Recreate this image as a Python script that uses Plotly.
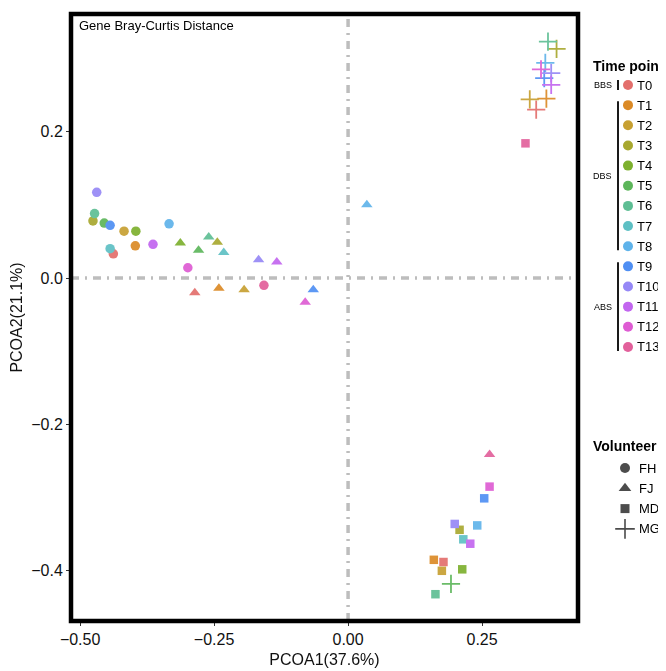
import plotly.graph_objects as go

# ---------------- data ----------------
time_points = ["T0", "T1", "T2", "T3", "T4", "T5", "T6", "T7", "T8", "T9", "T10", "T11", "T12", "T13"]
tp_colors = ["#E36F6C", "#DB8A26", "#C7A032", "#A8A82F", "#7DB02E", "#5DB65B", "#5EBE94", "#5EC0C4",
             "#5FB3EA", "#4F8FF3", "#9688F6", "#C266EF", "#DE5CD3", "#E2609B"]

# FH (circles)
fh_t = ["T0", "T1", "T2", "T3", "T4", "T5", "T6", "T7", "T8", "T9", "T10", "T11", "T12", "T13"]
fh_x = [-0.438, -0.397, -0.418, -0.476, -0.396, -0.455, -0.473, -0.444, -0.334, -0.444, -0.469, -0.364, -0.299, -0.157]
fh_y = [0.033, 0.044, 0.064, 0.078, 0.064, 0.075, 0.088, 0.040, 0.074, 0.072, 0.117, 0.046, 0.014, -0.010]

# FJ (triangles)
fj_t = ["T0", "T1", "T2", "T3", "T4", "T5", "T6", "T7", "T8", "T9", "T10", "T11", "T12", "T13"]
fj_x = [-0.286, -0.241, -0.194, -0.244, -0.313, -0.279, -0.260, -0.232, 0.035, -0.065, -0.167, -0.133, -0.080, 0.264]
fj_y = [-0.020, -0.014, -0.016, 0.049, 0.048, 0.038, 0.056, 0.035, 0.100, -0.016, 0.025, 0.022, -0.033, -0.241]

# MD (squares)
md_t = ["T0", "T1", "T2", "T3", "T4", "T6", "T7", "T8", "T9", "T10", "T11", "T12", "T13"]
md_x = [0.178, 0.160, 0.175, 0.208, 0.213, 0.163, 0.215, 0.241, 0.254, 0.199, 0.228, 0.264, 0.331]
md_y = [-0.388, -0.385, -0.400, -0.344, -0.398, -0.432, -0.357, -0.338, -0.301, -0.336, -0.363, -0.285, 0.184]

# MG (crosses)
mg_t = ["T0", "T1", "T2", "T3", "T5", "T6", "T8", "T9", "T10", "T11", "T12"]
mg_x = [0.351, 0.370, 0.339, 0.389, 0.192, 0.373, 0.368, 0.366, 0.379, 0.379, 0.360]
mg_y = [0.230, 0.245, 0.244, 0.313, -0.418, 0.323, 0.294, 0.273, 0.280, 0.264, 0.285]

volunteers = ["FH", "FJ", "MD", "MG"]
phases = [("BBS", 0, 0), ("DBS", 1, 8), ("ABS", 9, 13)]

x_ticks = [-0.50, -0.25, 0.00, 0.25]
y_ticks = [-0.4, -0.2, 0.0, 0.2]

# ---------------- style ----------------
FONT = "Liberation Sans, Arial, Helvetica, sans-serif"
cmap = dict(zip(time_points, tp_colors))
symbols = {"FH": "circle", "FJ": "triangle-up", "MD": "square", "MG": "cross-thin"}
sizes = {"FH": 9.5, "FJ": 10, "MD": 8.5, "MG": 13}

fig = go.Figure()

for name, ts, xs, ys in [("FH", fh_t, fh_x, fh_y), ("FJ", fj_t, fj_x, fj_y),
                         ("MD", md_t, md_x, md_y), ("MG", mg_t, mg_x, mg_y)]:
    cols = [cmap[t] for t in ts]
    if name == "MG":
        marker = dict(symbol=symbols[name], size=sizes[name], color=cols,
                      line=dict(color=cols, width=1.8))
    else:
        marker = dict(symbol=symbols[name], size=sizes[name], color=cols, line=dict(width=0))
    fig.add_trace(go.Scatter(x=xs, y=ys, mode="markers", marker=marker, opacity=0.92,
                             name=name, showlegend=False, xaxis="x", yaxis="y",
                             text=ts, hovertemplate="%{text}<extra>" + name + "</extra>"))

# ---------------- legend drawn on a secondary pixel-like axis ----------------
row0, row_h = 77, 20.15
lg_y = [row0 + i * row_h for i in range(len(time_points))]
fig.add_trace(go.Scatter(x=[620] * len(time_points), y=lg_y, mode="markers",
                         marker=dict(symbol="circle", size=10, color=tp_colors),
                         xaxis="x2", yaxis="y2", showlegend=False, hoverinfo="skip", cliponaxis=False))

vol_y0, vol_h = 460, 20.3
v_y = [vol_y0 + i * vol_h for i in range(len(volunteers))]
fig.add_trace(go.Scatter(x=[617] * len(volunteers), y=v_y, mode="markers",
                         marker=dict(symbol=[symbols[v] for v in volunteers],
                                     size=[10, 11, 9, 14], color="black",
                                     line=dict(color="black", width=[0, 0, 0, 1.6])),
                         xaxis="x2", yaxis="y2", showlegend=False, hoverinfo="skip", cliponaxis=False))

annotations = []
annotations.append(dict(x=583, y=58, xref="x2", yref="y2", text="<b>Time point</b>", showarrow=False,
                        xanchor="left", yanchor="middle", font=dict(size=14, color="black", family=FONT)))
for t, yy in zip(time_points, lg_y):
    annotations.append(dict(x=627, y=yy, xref="x2", yref="y2", text=t, showarrow=False,
                            xanchor="left", yanchor="middle", font=dict(size=13, color="black", family=FONT)))
annotations.append(dict(x=583, y=438, xref="x2", yref="y2", text="<b>Volunteer</b>", showarrow=False,
                        xanchor="left", yanchor="middle", font=dict(size=14, color="black", family=FONT)))
for v, yy in zip(volunteers, v_y):
    annotations.append(dict(x=629, y=yy, xref="x2", yref="y2", text=v, showarrow=False,
                            xanchor="left", yanchor="middle", font=dict(size=13, color="black", family=FONT)))

shapes = []
for label, i0, i1 in phases:
    if i0 == i1:
        ytop, ybot = lg_y[i0] - 5, lg_y[i0] + 5
    else:
        ytop, ybot = lg_y[i0] - 4, lg_y[i1] + 4
    shapes.append(dict(type="line", xref="x2", yref="y2", x0=610, x1=610, y0=ytop, y1=ybot,
                       line=dict(color="#1a1a1a", width=2)))
    annotations.append(dict(x=606, y=(lg_y[i0] + lg_y[i1]) / 2, xref="x2", yref="y2", text=label,
                            showarrow=False, xanchor="right", yanchor="middle",
                            font=dict(size=9, color="black", family=FONT)))

# chart caption inside panel
annotations.append(dict(x=0.012, y=0.997, xref="x domain", yref="y domain", text="Gene Bray-Curtis Distance",
                        showarrow=False, xanchor="left", yanchor="top",
                        font=dict(size=13, color="black", family=FONT)))

# zero reference lines
dash = "8px,6px,2px,6px"
shapes.append(dict(type="line", xref="x", yref="y domain", x0=0, x1=0, y0=0, y1=1,
                   line=dict(color="#BDBDBD", width=3.5, dash=dash), layer="below"))
shapes.append(dict(type="line", xref="x domain", yref="y", x0=0, x1=1, y0=0, y1=0,
                   line=dict(color="#BDBDBD", width=3.5, dash=dash), layer="below"))
# thick panel border
shapes.append(dict(type="rect", xref="x domain", yref="y domain", x0=0, x1=1, y0=0, y1=1,
                   line=dict(color="black", width=4.5), layer="above"))

fig.update_layout(
    width=666, height=671,
    margin=dict(l=63, r=3, t=6, b=58, autoexpand=False),
    paper_bgcolor="white", plot_bgcolor="white",
    font=dict(family=FONT, color="black"),
    showlegend=False,
    xaxis=dict(domain=[0, 0.845], range=[-0.517, 0.429], tickvals=x_ticks,
               ticktext=["\u22120.50", "\u22120.25", "0.00", "0.25"],
               showgrid=False, zeroline=False, ticks="outside", ticklen=4, tickwidth=1,
               tickcolor="#333333", tickfont=dict(size=16, color="#111111"),
               title=dict(text="PCOA1(37.6%)", font=dict(size=16, color="#111111"), standoff=6),
               anchor="y", automargin=False),
    yaxis=dict(domain=[0, 1], range=[-0.4686, 0.3607], tickvals=y_ticks,
               ticktext=["\u22120.4", "\u22120.2", "0.0", "0.2"],
               showgrid=False, zeroline=False, ticks="outside", ticklen=4, tickwidth=1,
               tickcolor="#333333", tickfont=dict(size=16, color="#111111"),
               title=dict(text="PCOA2(21.1%)", font=dict(size=16, color="#111111"), standoff=6),
               anchor="x", automargin=False),
    xaxis2=dict(domain=[0.845, 1], range=[570, 663], visible=False, anchor="y2", fixedrange=True),
    yaxis2=dict(domain=[0, 1], range=[613, 6], visible=False, anchor="x2", fixedrange=True),
    annotations=annotations,
    shapes=shapes,
)

fig.write_html("out.html")
